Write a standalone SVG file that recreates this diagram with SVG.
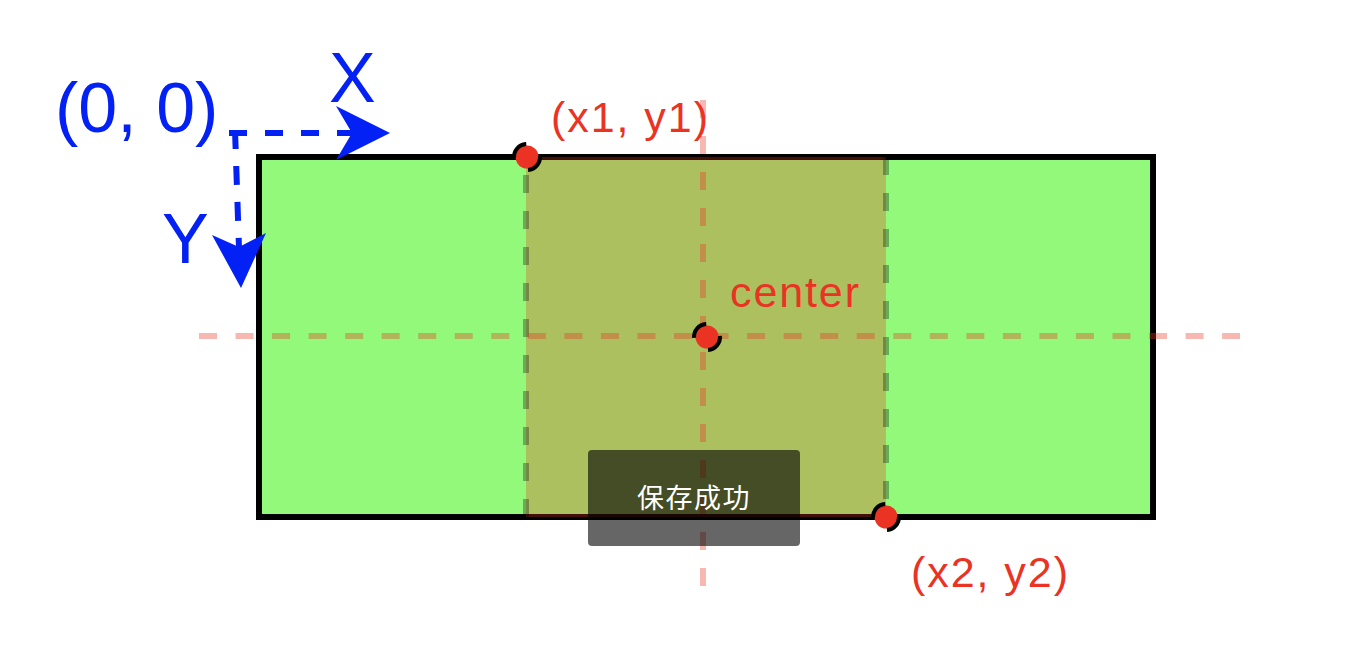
<svg xmlns="http://www.w3.org/2000/svg" width="1370" height="668" viewBox="0 0 1370 668">
  <style>
    .lbl { font-family: "Liberation Sans", Arial, sans-serif; }
    .blue { fill: #0421F5; font-size: 70px; }
    .red { fill: #EA3323; font-size: 43px; }
    .pink { stroke: rgba(234,51,35,0.35); stroke-width: 6; stroke-dasharray: 18 18; fill: none; }
    .dark { stroke: rgba(0,0,0,0.3); stroke-width: 6; stroke-dasharray: 18 18; fill: none; }
    .axis { stroke: #0421F5; stroke-width: 6; stroke-dasharray: 18 18; fill: none; }
    .dotfill { fill: #EA3323; }
    .dotring { fill: none; stroke: #000; stroke-width: 4; stroke-dasharray: 20.42 20.42; }
  </style>
  <defs>
    <g id="dot">
      <circle r="11.5" class="dotfill"/>
      <circle r="13" class="dotring" transform="rotate(-5)"/>
    </g>
  </defs>
  <rect width="1370" height="668" fill="#ffffff"/>

  <g id="outer-rect">
    <rect x="259" y="157" width="894" height="360" fill="#93F97A" stroke="#000" stroke-width="6"/>
  </g>

  <g id="selection">
    <rect x="526" y="157" width="360" height="360" fill="rgba(234,51,35,0.29)"/>
  </g>

  <g id="connectors">
    <line class="dark" x1="526" y1="517" x2="526" y2="157"/>
    <line class="dark" x1="886" y1="157" x2="886" y2="517"/>
    <line class="pink" x1="199" y1="336" x2="1240" y2="336" style="stroke-dasharray: 18 18.54"/>
    <line class="pink" x1="703" y1="100" x2="703" y2="586"/>
    <line class="axis" x1="229" y1="133" x2="352" y2="133"/>
    <polygon points="390,133 336,106 352,133 336,160" fill="#0421F5"/>
    <line class="axis" x1="235" y1="130" x2="239" y2="248" style="stroke-dasharray: 19 17"/>
    <polygon points="241,288 266,233 239,247 212,235" fill="#0421F5"/>
  </g>

  <g id="point-x1y1">
    <use href="#dot" x="527" y="157"/>
    <text class="lbl red" x="551" y="132" textLength="157" lengthAdjust="spacing">(x1, y1)</text>
  </g>
  <g id="point-center">
    <use href="#dot" x="707" y="337"/>
    <text class="lbl red" x="730" y="307" textLength="129" lengthAdjust="spacing">center</text>
  </g>
  <g id="point-x2y2">
    <use href="#dot" x="886" y="517"/>
    <text class="lbl red" x="911" y="587" textLength="157" lengthAdjust="spacing">(x2, y2)</text>
  </g>

  <g id="origin">
    <text class="lbl blue" x="55" y="132">(0, 0)</text>
    <text class="lbl blue" x="329" y="102">X</text>
    <text class="lbl blue" x="162" y="263">Y</text>
  </g>

  <g id="toast">
    <rect x="588" y="450" width="212" height="96" rx="4" fill="rgba(0,0,0,0.6)"/>
    <text x="694" y="508" text-anchor="middle" fill="#ffffff" font-size="27" letter-spacing="1.5" font-family="'Noto Sans CJK SC', 'Noto Sans', sans-serif">保存成功</text>
  </g>
</svg>
